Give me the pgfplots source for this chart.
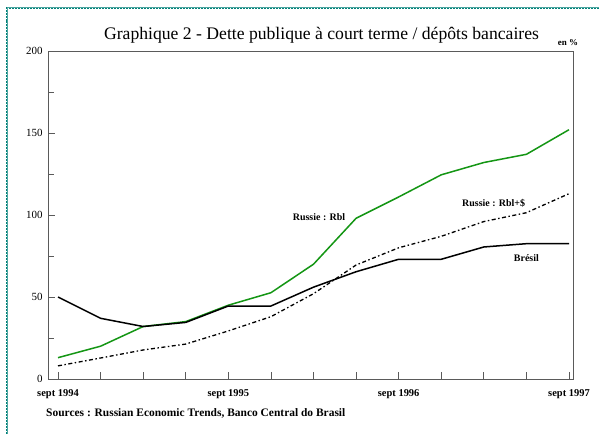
\documentclass[border=0pt]{standalone}
\usepackage{pgfplots}
\pgfplotsset{compat=1.18}
\usepackage{fontspec}
\setmainfont{Liberation Serif}
\definecolor{teal1}{RGB}{0,128,120}
\definecolor{grn}{RGB}{20,150,20}
\definecolor{axgray}{RGB}{90,90,90}
\begin{document}
\begin{tikzpicture}[x=1bp,y=1bp]
\useasboundingbox (0,0) rectangle (599,434);
\fill[white] (0,0) rectangle (599,434);
\draw[teal1, line width=2bp, densely dotted] (7,0) -- (7,426) -- (599,426);
\draw[teal1!70, line width=1bp] (7,0) -- (7,426) -- (599,426);
\begin{axis}[
  at={(48bp,55bp)}, anchor=south west,
  width=525bp, height=328bp, scale only axis,
  xmin=-0.235, xmax=12.094, ymin=0, ymax=200,
  axis line style={axgray, line width=0.8pt},
  axis lines=box,
  xtick={0,1,...,12},
  xticklabels={sept 1994,,,,sept 1995,,,,sept 1996,,,,sept 1997},
  ytick={0,50,100,150,200},
  minor ytick={25,75,125,175},
  tick align=inside,
  xtick pos=bottom, ytick pos=left,
  major tick length=7bp, minor tick length=6bp,
  tick style={axgray, line width=0.8pt},
  x tick label style={font=\fontsize{10.5}{12}\selectfont\bfseries, yshift=-7bp},
  y tick label style={font=\fontsize{11}{12}\selectfont, xshift=-2bp},
  /pgf/number format/assume math mode=true,
  clip=false,
]
\addplot[grn, line width=1.5bp] coordinates {
(0,13) (1,20) (2,32) (3,35) (4,45) (5,52.6) (6,70) (7,98) (8,111) (9,124.5) (10,132) (11,137) (12,152)};
\addplot[black, line width=1.5bp] coordinates {
(0,50) (1,37) (2,32) (3,34.5) (4,44.5) (5,44.5) (6,56) (7,65.4) (8,73) (9,73) (10,80.5) (11,82.5) (12,82.5)};
\addplot[black, line width=1.3bp, dash pattern=on 4bp off 2.5bp on 1.5bp off 2.5bp] coordinates {
(0,8) (1,12.8) (2,17.7) (3,21.3) (4,29.3) (5,38) (6,52) (7,69.5) (8,80) (9,87) (10,96) (11,101.4) (12,113)};
\node[font=\fontsize{10}{12}\selectfont\bfseries] at (axis cs:6.13,99) {Russie : Rbl};
\node[font=\fontsize{10}{12}\selectfont\bfseries] at (axis cs:10.23,107) {Russie : Rbl+\$};
\node[font=\fontsize{10}{12}\selectfont\bfseries] at (axis cs:11.0,73.6) {Brésil};
\end{axis}
\node[font=\fontsize{17.7}{20}\selectfont] at (321.5,399) {Graphique 2 - Dette publique à court terme / dépôts bancaires};
\node[font=\fontsize{9}{11}\selectfont\bfseries] at (568,391) {en \%};
\node[font=\fontsize{11.5}{13}\selectfont\bfseries, anchor=west, inner sep=0pt] at (46,21) {Sources : Russian Economic Trends, Banco Central do Brasil};
\end{tikzpicture}
\end{document}
